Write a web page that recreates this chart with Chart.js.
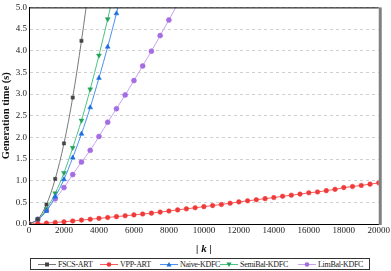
<!DOCTYPE html>
<html>
<head>
<meta charset="utf-8">
<script src="https://cdn.jsdelivr.net/npm/chart.js@4.4.1/dist/chart.umd.min.js"></script>
<style>
  html, body { margin: 0; padding: 0; background: #fff; }
  #wrap { position: relative; width: 391px; height: 271px; }
  #box { position: absolute; left: 0; top: 0; width: 391px; height: 256px; }
  #legend {
    position: absolute; left: 30px; top: 258px; width: 340px; height: 12px;
    border: 1px solid #333; box-sizing: border-box;
    font: 8px "Liberation Serif", serif; letter-spacing: -0.3px; color: #222;
  }
  #legend span { position: absolute; top: 0; height: 10px; display: inline-flex; align-items: center; white-space: nowrap; }
  #legend svg { margin-right: 2px; }
</style>
</head>
<body>
<div id="wrap">
  <div id="box"><canvas id="grafico"></canvas></div>
  <div id="legend"></div>
</div>
<script>
// eixo x: |k|
const kFscs = [0, 500, 1000, 1500, 2000, 2500, 3000, 3500];
const tempoFscs = [0, 0.11, 0.45, 1.04, 1.86, 2.92, 4.23, 5.7];

const kVpp = [0, 500, 1000, 1500, 2000, 2500, 3000, 3500, 4000, 4500, 5000, 5500, 6000, 6500, 7000, 7500,
  8000, 8500, 9000, 9500, 10000, 10500, 11000, 11500, 12000, 12500, 13000, 13500, 14000, 14500, 15000,
  15500, 16000, 16500, 17000, 17500, 18000, 18500, 19000, 19500, 20000];
const tempoVpp = [0, 0.01, 0.02, 0.035, 0.05, 0.07, 0.09, 0.11, 0.13, 0.15, 0.17, 0.19, 0.21, 0.23, 0.25, 0.275,
  0.30, 0.325, 0.35, 0.375, 0.40, 0.425, 0.45, 0.48, 0.51, 0.535, 0.56, 0.585, 0.61, 0.64, 0.665,
  0.69, 0.72, 0.74, 0.77, 0.80, 0.84, 0.865, 0.89, 0.92, 0.95];

const kNaive = [0, 500, 1000, 1500, 2000, 2500, 3000, 3500, 4000, 4500, 5000, 5500];
const tempoNaive = [0, 0.1, 0.3, 0.63, 1.03, 1.53, 2.08, 2.69, 3.37, 4.09, 4.86, 5.7];

const kSemi = [0, 500, 1000, 1500, 2000, 2500, 3000, 3500, 4000, 4500, 5000];
const tempoSemi = [0, 0.1, 0.35, 0.71, 1.18, 1.76, 2.39, 3.11, 3.89, 4.73, 5.6];

const kLim = [0, 500, 1000, 1500, 2000, 2500, 3000, 3500, 4000, 4500, 5000, 5500, 6000, 6500, 7000, 7500, 8000, 8500];
const tempoLim = [0, 0.11, 0.32, 0.58, 0.84, 1.14, 1.43, 1.70, 2.02, 2.35, 2.66, 2.98, 3.31, 3.65, 3.99, 4.35, 4.71, 5.08];

const nomes = ['FSCS-ART', 'VPP-ART', 'Naive-KDFC', 'SemiBal-KDFC', 'LimBal-KDFC'];
const yTicks = [0, 0.5, 1, 1.5, 2, 2.5, 3, 3.5, 4, 4.5, 5];

const estilos = [
  { linha: '#7a7a7a', ponto: '#454545', forma: 'rect', raio: 2.3, rot: 0 },
  { linha: '#ff5a5a', ponto: '#f03a3a', forma: 'circle', raio: 2.3, rot: 0 },
  { linha: '#4a90f0', ponto: '#1a6ee0', forma: 'triangle', raio: 2.8, rot: 0 },
  { linha: '#4cc483', ponto: '#22a35a', forma: 'triangle', raio: 2.8, rot: 180 },
  { linha: '#c9a2f2', ponto: '#a46de2', forma: 'circle', raio: 2.5, rot: 0 }
];

const series = [[kFscs, tempoFscs], [kVpp, tempoVpp], [kNaive, tempoNaive], [kSemi, tempoSemi], [kLim, tempoLim]];

const serif = '"Liberation Serif", "Times New Roman", serif';

const datasets = series.map(([xs, ys], i) => ({
  label: nomes[i],
  data: xs.map((x, j) => ({ x, y: ys[j] })),
  borderColor: estilos[i].linha,
  backgroundColor: estilos[i].ponto,
  pointBorderColor: estilos[i].ponto,
  pointBackgroundColor: estilos[i].ponto,
  pointStyle: estilos[i].forma,
  pointRadius: estilos[i].raio,
  pointRotation: estilos[i].rot,
  pointBorderWidth: 0.5,
  borderWidth: 1,
  cubicInterpolationMode: 'monotone'
}));

// bordas superior (preta) e direita (cinza grossa)
const bordas = {
  id: 'bordas',
  afterDraw(chart) {
    const { ctx, chartArea: a } = chart;
    ctx.save();
    ctx.strokeStyle = '#000';
    ctx.lineWidth = 1;
    ctx.beginPath();
    ctx.moveTo(a.left, a.top + 0.5);
    ctx.lineTo(a.right, a.top + 0.5);
    ctx.stroke();
    ctx.strokeStyle = '#808080';
    ctx.lineWidth = 3;
    ctx.beginPath();
    ctx.moveTo(a.right + 1.5, a.top);
    ctx.lineTo(a.right + 1.5, a.bottom + 1);
    ctx.stroke();
    ctx.restore();
  }
};

new Chart(document.getElementById('grafico'), {
  type: 'line',
  data: { datasets },
  options: {
    responsive: true,
    maintainAspectRatio: false,
    animation: false,
    layout: { padding: { top: 4, right: 12, left: 0, bottom: 0 } },
    plugins: { legend: { display: false }, tooltip: { enabled: false } },
    scales: {
      x: {
        type: 'linear',
        min: 0, max: 20000,
        ticks: { stepSize: 2000, color: '#222', font: { family: serif, size: 9 }, padding: 1, maxRotation: 0,
          callback: v => String(v) },
        grid: { display: false, drawTicks: false },
        border: { color: '#000', width: 1 },
        title: {
          display: true, text: '| k |', color: '#111',
          font: { family: serif, size: 11, weight: 'bold', style: 'italic' }, padding: { top: 3, bottom: 0 }
        },
        afterFit(s) { s.height = 32; }
      },
      y: {
        min: 0, max: 5,
        afterBuildTicks(s) { s.ticks = yTicks.map(v => ({ value: v })); },
        ticks: { color: '#222', font: { family: serif, size: 9 }, padding: 2, callback: v => v.toFixed(1) },
        grid: { color: '#d0d0d0', drawTicks: false, lineWidth: 1 },
        border: { color: '#000', width: 1, dash: [3, 3] },
        title: {
          display: true, text: 'Generation time (s)', color: '#111',
          font: { family: serif, size: 10.5, weight: 'bold' }, padding: 0
        },
        afterFit(s) { s.width = 29; }
      }
    }
  },
  plugins: [bordas]
});

// legenda em HTML
const posLegenda = [7, 69, 129, 189, 267];
const legenda = document.getElementById('legend');
estilos.forEach((e, i) => {
  let marca;
  if (e.forma === 'rect') marca = `<rect x="7" y="2.5" width="4" height="4" fill="${e.ponto}"/>`;
  else if (e.forma === 'circle') marca = `<circle cx="9" cy="4.5" r="2.3" fill="${e.ponto}"/>`;
  else if (e.rot === 180) marca = `<polygon points="6.5,2.5 11.5,2.5 9,7" fill="${e.ponto}"/>`;
  else marca = `<polygon points="6.5,6.5 11.5,6.5 9,2" fill="${e.ponto}"/>`;
  legenda.insertAdjacentHTML('beforeend',
    `<span style="left:${posLegenda[i]}px"><svg width="18" height="9"><line x1="0" y1="4.5" x2="18" y2="4.5" stroke="${e.linha}" stroke-width="1"/>${marca}</svg>${nomes[i]}</span>`);
});
</script>
</body>
</html>
